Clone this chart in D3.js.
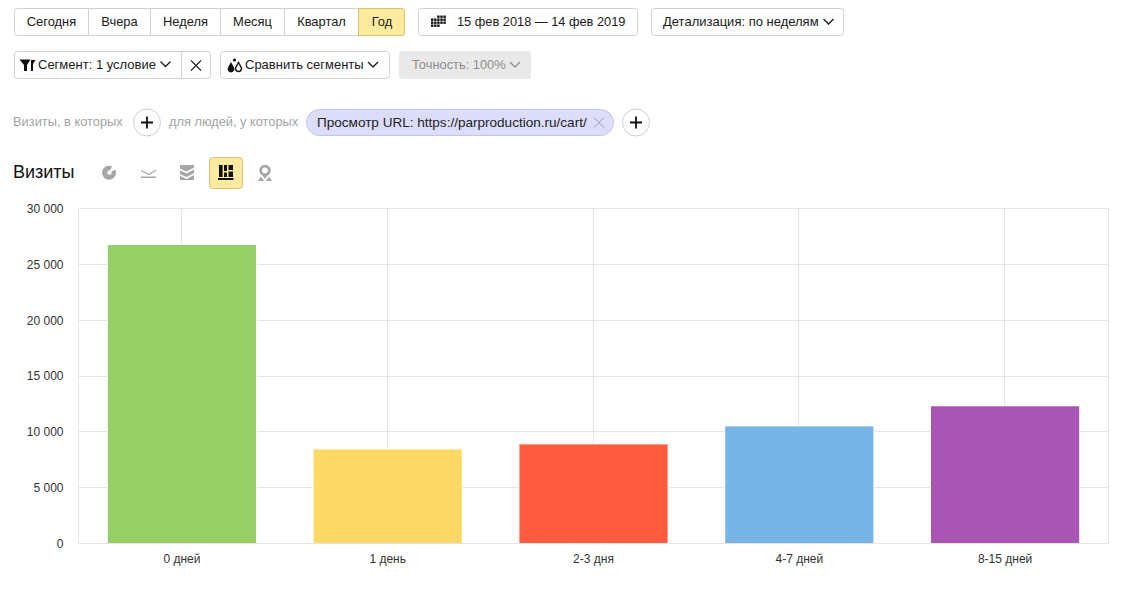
<!DOCTYPE html>
<html><head><meta charset="utf-8">
<script src="https://cdnjs.cloudflare.com/ajax/libs/d3/7.8.5/d3.min.js"></script>
<style>
html,body{margin:0;padding:0;background:#fff;overflow:hidden}
svg{display:block}
text{font-family:"Liberation Sans",Arial,sans-serif}
</style></head><body><svg id="c" width="1140" height="598"></svg>
<script>
const categories=["0 дней","1 день","2-3 дня","4-7 дней","8-15 дней"];
const visits=[26730,8430,8880,10490,12290];
const barColors=["#98ce66","#ffd966","#ff5b3e","#78b5e7","#a855b4"];
const yTicks=[0,5000,10000,15000,20000,25000,30000];
const periods=["Сегодня","Вчера","Неделя","Месяц","Квартал","Год"];
const periodEdges=[14,88,150,220,284,358,405];

const svg=d3.select("#c");
const border="#d2d2d2", ink="#1a1a1a";

function box(x,y,w,h,opt={}){
  svg.append("rect").attr("x",x+.5).attr("y",y+.5).attr("width",w-1).attr("height",h-1)
    .attr("rx",opt.r??3).attr("fill",opt.fill||"#fff").attr("stroke",opt.stroke||border);
}
function label(x,y,t,opt={}){
  return svg.append("text").attr("x",x).attr("y",y).attr("font-size",opt.size||13)
    .attr("fill",opt.fill||ink).attr("text-anchor",opt.anchor||"start").text(t);
}
function chevron(cx,cy,color=ink,s=5){
  svg.append("path").attr("d",`M${cx-s},${cy-2.5}L${cx},${cy+2.5}L${cx+s},${cy-2.5}`)
    .attr("fill","none").attr("stroke",color).attr("stroke-width",1.3);
}
function cross(cx,cy,s,color,w=1.1){
  svg.append("path").attr("d",`M${cx-s},${cy-s}L${cx+s},${cy+s}M${cx+s},${cy-s}L${cx-s},${cy+s}`)
    .attr("fill","none").attr("stroke",color).attr("stroke-width",w);
}
function plus(cx,cy,r){
  svg.append("circle").attr("cx",cx).attr("cy",cy).attr("r",r).attr("fill","#fff").attr("stroke","#cfcfcf");
  svg.append("path").attr("d",`M${cx-6},${cy}H${cx+6}M${cx},${cy-6}V${cy+6}`).attr("stroke","#111").attr("stroke-width",1.8);
}

/* period switch */
box(14,8,391,28);
svg.append("path").attr("d","M358.5,8.5H402a2.5,2.5 0 0 1 2.5,2.5V33a2.5,2.5 0 0 1 -2.5,2.5H358.5Z")
  .attr("fill","#ffeba0").attr("stroke","#d9c270");
periods.forEach((p,i)=>{
  if(i>0&&i<5) svg.append("line").attr("x1",periodEdges[i]+.5).attr("x2",periodEdges[i]+.5).attr("y1",8).attr("y2",36).attr("stroke",border);
  label((periodEdges[i]+periodEdges[i+1])/2+.5,26,p,{anchor:"middle",size:12.9});
});

/* date range */
box(418,8,220,28);
for(let r=0;r<4;r++)for(let c=0;c<5;c++){
  if((r===0&&c<2)||(r===3&&c>2))continue;
  svg.append("rect").attr("x",431+c*3.1).attr("y",15.5+r*3).attr("width",2.4).attr("height",2.4).attr("fill","#111");
}
label(457,26,"15 фев 2018 — 14 фев 2019",{size:12.8});

/* detail */
box(651,8,193,28);
label(663,26,"Детализация: по неделям");
chevron(828.5,21.5);

/* segment */
box(14,51,197,28);
svg.append("line").attr("x1",181.5).attr("x2",181.5).attr("y1",51).attr("y2",79).attr("stroke",border);
svg.append("path").attr("d","M19.5,59.5H30.5L27,65V71H24V65ZM31,60H35.5L33,64V71H31Z").attr("fill","#111");
label(38,69,"Сегмент: 1 условие");
chevron(165.5,64);
cross(196,65.5,5,"#222");

/* compare */
box(220,51,170,28);
svg.append("path").attr("d","M231,62L234,67.5A3.4,3.4 0 1 1 228,67.5Z").attr("fill","#111");
svg.append("path").attr("d","M238.5,62.5L241.3,67.5A3,3 0 1 1 235.7,67.5Z").attr("fill","none").attr("stroke","#111").attr("stroke-width",1.5);
svg.append("circle").attr("cx",234.5).attr("cy",60).attr("r",1.6).attr("fill","#111");
label(245,69,"Сравнить сегменты");
chevron(373,64.5,ink,5);

/* accuracy */
svg.append("rect").attr("x",399).attr("y",51).attr("width",132).attr("height",28).attr("rx",3).attr("fill","#e9e9e9");
label(412,69,"Точность: 100%",{fill:"#8d8d8d",size:12.85});
chevron(515,64.5,"#8d8d8d",5);

/* condition row */
label(13,126,"Визиты, в которых",{fill:"#a3a3a3",size:12.85});
plus(147,122.5,13.5);
label(169,126,"для людей, у которых",{fill:"#a3a3a3",size:12.8});
svg.append("rect").attr("x",306.5).attr("y",109.5).attr("width",307).attr("height",26).attr("rx",13).attr("fill","#dcdcfb").attr("stroke","#c3c3e8");
label(317,127,"Просмотр URL: https://parproduction.ru/cart/",{fill:"#222",size:13.55});
cross(599,122.5,5,"#9c9cb0",1);
plus(636,122.5,13.5);

/* title + chart type icons */
label(13,178,"Визиты",{size:18,fill:"#111"});
const g="#a6a6a6";
svg.append("circle").attr("cx",109).attr("cy",172.7).attr("r",7).attr("fill",g);
svg.append("path").attr("d","M109,172.7L117,168.5L113,164.5Z").attr("fill","#fff");
svg.append("circle").attr("cx",109.5).attr("cy",172.5).attr("r",2.2).attr("fill","#fff");
svg.append("path").attr("d","M141,170.5L149,174.5L156,170").attr("fill","none").attr("stroke",g).attr("stroke-width",1.3);
svg.append("rect").attr("x",141).attr("y",176.5).attr("width",15).attr("height",1.5).attr("fill",g);
svg.append("rect").attr("x",180).attr("y",165).attr("width",14).attr("height",15).attr("fill",g);
svg.append("path").attr("d","M179,169L186.5,172.5L195,168M179,174.5L186.5,178L195,173.5").attr("fill","none").attr("stroke","#fff").attr("stroke-width",1.6);
svg.append("rect").attr("x",209.5).attr("y",157.5).attr("width",33).attr("height",31).attr("rx",3).attr("fill","#ffeba0").attr("stroke","#d9c270");
[[219,165,3.6,12],[224,165,3,6],[224,172.5,3,4.5],[228.5,165,4.5,5],[228.5,171.5,4.5,5.5],[218,178,15.5,2]].forEach(d=>
  svg.append("rect").attr("x",d[0]).attr("y",d[1]).attr("width",d[2]).attr("height",d[3]).attr("fill","#111"));
svg.append("circle").attr("cx",265).attr("cy",170.5).attr("r",4.3).attr("fill","none").attr("stroke",g).attr("stroke-width",2.8);
svg.append("path").attr("d","M261.5,174L265,179L268.5,174ZM258,181L261,176.5L264,181ZM266,181L269,176.5L272,181Z").attr("fill",g);

/* chart */
const plot={l:78.5,r:1108.5,t:208.5,b:543.5};
const x=d3.scaleBand().domain(categories).range([79,1108]).paddingInner(0.28).paddingOuter(0.14);
const y=d3.scaleLinear().domain([0,30000]).range([plot.b,plot.t]);
const fmt=v=>d3.format(",")(v).replace(/,/g," ");

const grid=svg.append("g").attr("stroke","#e4e4e4").attr("shape-rendering","crispEdges");
yTicks.forEach(t=>{const p=Math.floor(y(t))+.5;grid.append("line").attr("x1",plot.l).attr("x2",plot.r).attr("y1",p).attr("y2",p);});
categories.forEach(c=>{const cx=Math.round(x(c)+x.bandwidth()/2)-.5;
  grid.append("line").attr("x1",cx).attr("x2",cx).attr("y1",plot.t).attr("y2",plot.b);});
grid.append("line").attr("x1",plot.l).attr("x2",plot.l).attr("y1",plot.t).attr("y2",plot.b);
grid.append("line").attr("x1",plot.r).attr("x2",plot.r).attr("y1",plot.t).attr("y2",plot.b);

/* white halo under each bar, then the bar itself */
svg.append("g").selectAll("rect").data(visits).join("rect")
  .attr("x",(d,i)=>x(categories[i])-1).attr("width",x.bandwidth()+2)
  .attr("y",d=>y(d)-1).attr("height",d=>plot.b-y(d)+.5)
  .attr("fill","#fff");
svg.append("g").selectAll("rect").data(visits).join("rect")
  .attr("x",(d,i)=>x(categories[i])).attr("width",x.bandwidth())
  .attr("y",d=>y(d)).attr("height",d=>plot.b-y(d)-.5)
  .attr("fill",(d,i)=>barColors[i]);

const yAxis=d3.axisLeft(y).tickValues(yTicks).tickFormat(fmt).tickSize(0).tickPadding(15);
const ya=svg.append("g").attr("transform",`translate(${plot.l},0)`).call(yAxis);
ya.select(".domain").remove();
ya.selectAll("text").attr("font-size",12).attr("fill","#333").attr("font-family",'"Liberation Sans",Arial,sans-serif');

const xAxis=d3.axisBottom(x).tickSize(0).tickPadding(11);
const xa=svg.append("g").attr("transform",`translate(0,${plot.b-.5})`).call(xAxis);
xa.select(".domain").remove();
xa.selectAll("text").attr("font-size",12).attr("fill","#333").attr("font-family",'"Liberation Sans",Arial,sans-serif');
</script></body></html>
